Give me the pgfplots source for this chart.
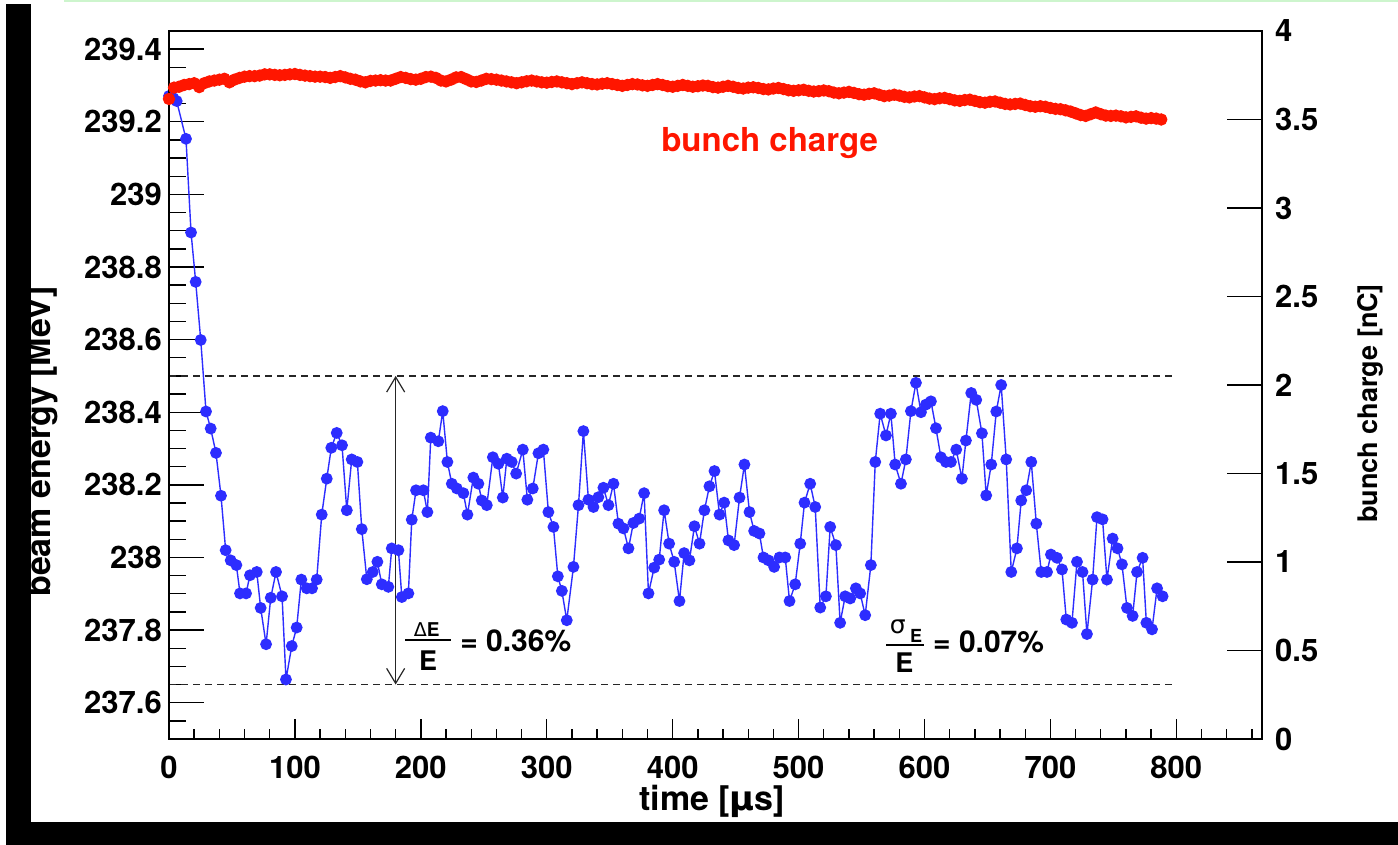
\documentclass[border=0pt]{standalone}
\usepackage{fontspec}
\setmainfont{TeX Gyre Heros}
\newfontfamily\dejavu{DejaVu Sans}
\usepackage{pgfplots}
\usepackage{pgfplotstable}
\pgfplotsset{compat=1.18}
\usetikzlibrary{arrows.meta}
\definecolor{myblue}{RGB}{45,45,255}
\definecolor{myred}{RGB}{255,22,0}
\definecolor{mygreen}{RGB}{205,245,205}
\newcommand{\fs}[1]{\fontsize{#1bp}{#1bp}\selectfont}

\pgfplotstableread{
t E
0 239.271
3.5 239.265
6.1 239.257
13.5 239.153
17.5 238.895
21.2 238.759
25.2 238.599
29.4 238.402
33.1 238.355
37.3 238.288
41.3 238.170
45.0 238.020
49.0 237.992
53.5 237.979
56.4 237.901
61.2 237.901
64.3 237.951
69.7 237.960
72.8 237.861
77.1 237.761
80.8 237.889
85.0 237.960
89.8 237.893
92.9 237.664
97.5 237.756
101.4 237.807
105.1 237.939
109.4 237.915
113.6 237.915
117.3 237.939
121.3 238.118
125.3 238.217
128.9 238.302
133.2 238.343
137.4 238.309
141.2 238.130
145.1 238.270
149.6 238.263
153.1 238.078
157.1 237.940
161.8 237.960
165.5 237.988
169.0 237.926
174.2 237.919
176.9 238.025
182.2 238.020
184.9 237.891
190.1 237.901
192.8 238.104
196.2 238.185
202.0 238.185
205.2 238.125
207.9 238.330
213.9 238.320
217.4 238.403
221.1 238.263
224.6 238.203
228.6 238.190
233.8 238.177
237.0 238.118
241.7 238.220
245.7 238.203
248.4 238.157
252.4 238.144
257.2 238.276
261.6 238.258
265.1 238.165
268.3 238.272
272.2 238.263
275.7 238.231
281.0 238.297
284.6 238.159
288.9 238.190
293.4 238.287
297.3 238.297
301.3 238.125
305.3 238.084
308.8 237.948
312.0 237.908
315.9 237.827
321.2 237.974
325.2 238.144
329.1 238.348
333.1 238.159
337.1 238.139
341.0 238.166
345.0 238.192
349.0 238.144
353.0 238.203
356.9 238.093
360.9 238.080
364.9 238.025
368.8 238.095
373.4 238.107
377.3 238.177
380.8 237.901
385.3 237.972
389.3 237.994
393.2 238.130
397.2 238.038
401.2 237.988
405.4 237.880
409.1 238.012
413.3 237.992
417.3 238.086
421.3 238.038
425.2 238.130
429.2 238.196
433.2 238.238
437.2 238.118
440.9 238.151
444.3 238.047
448.8 238.034
453.1 238.165
457.0 238.256
461.0 238.125
464.7 238.073
468.9 238.066
472.1 238.000
476.1 237.992
480.6 237.974
484.8 238.000
489.4 238.000
492.8 237.880
497.3 237.926
501.3 238.038
504.7 238.151
509.2 238.203
513.2 238.139
517.2 237.862
521.7 237.893
525.1 238.084
529.6 238.034
533.0 237.820
537.0 237.893
541.0 237.887
545.5 237.915
548.9 237.901
552.9 237.841
557.4 237.979
560.9 238.263
564.8 238.396
569.4 238.336
573.3 238.396
576.7 238.256
581.3 238.203
585.2 238.270
589.2 238.403
593.2 238.481
597.2 238.400
601.1 238.421
605.1 238.430
609.1 238.356
613.0 238.276
617.0 238.263
621.0 238.263
625.2 238.297
629.7 238.217
632.9 238.322
637.1 238.453
641.1 238.434
645.6 238.342
649.0 238.171
653.0 238.256
657.0 238.402
660.9 238.475
664.9 238.270
668.9 237.960
673.4 238.025
676.8 238.157
680.8 238.185
684.8 238.263
688.8 238.093
692.7 237.960
697.3 237.960
700.4 238.008
705.2 237.999
709.2 237.967
712.6 237.829
717.1 237.820
721.1 237.988
725.5 237.960
729.0 237.789
733.5 237.939
737.0 238.111
741.4 238.105
744.9 237.939
749.4 238.052
753.3 238.025
756.8 237.981
760.8 237.861
765.3 237.839
768.8 237.960
773.2 237.999
776.2 237.820
780.7 237.802
784.7 237.915
789.1 237.893
}\energy

\pgfplotstableread{
t Q
0 3.616
4 3.680
8 3.685
12 3.695
16 3.700
20 3.705
24 3.683
28 3.705
32 3.715
36 3.720
40 3.725
44 3.730
48 3.710
52 3.725
56 3.735
60 3.742
64 3.745
68 3.745
72 3.748
76 3.755
80 3.755
84 3.752
88 3.750
92 3.752
96 3.755
100 3.757
104 3.752
108 3.748
112 3.745
116 3.742
120 3.742
124 3.740
128 3.735
132 3.740
136 3.745
140 3.738
144 3.730
148 3.725
152 3.715
156 3.710
160 3.718
164 3.720
168 3.722
172 3.720
176 3.720
180 3.730
184 3.740
188 3.735
192 3.728
196 3.725
200 3.730
204 3.740
208 3.742
212 3.735
216 3.720
220 3.715
224 3.725
228 3.738
232 3.740
236 3.728
240 3.715
244 3.712
248 3.720
252 3.730
256 3.728
260 3.725
264 3.720
268 3.715
272 3.710
276 3.705
280 3.710
284 3.716
288 3.720
292 3.715
296 3.710
300 3.708
304 3.712
308 3.715
312 3.710
316 3.705
320 3.700
324 3.705
328 3.710
332 3.705
336 3.700
340 3.698
344 3.702
348 3.705
352 3.700
356 3.695
360 3.690
364 3.695
368 3.700
372 3.698
376 3.693
380 3.690
384 3.695
388 3.700
392 3.695
396 3.688
400 3.685
404 3.690
408 3.695
412 3.690
416 3.685
420 3.688
424 3.692
428 3.690
432 3.683
436 3.680
440 3.685
444 3.690
448 3.685
452 3.678
456 3.675
460 3.680
464 3.682
468 3.678
472 3.672
476 3.670
480 3.675
484 3.678
488 3.672
492 3.665
496 3.662
500 3.665
504 3.668
508 3.662
512 3.658
516 3.660
520 3.664
524 3.660
528 3.652
532 3.648
536 3.652
540 3.656
544 3.650
548 3.643
552 3.640
556 3.645
560 3.648
564 3.640
568 3.632
572 3.635
576 3.640
580 3.635
584 3.628
588 3.625
592 3.630
596 3.632
600 3.625
604 3.618
608 3.615
612 3.620
616 3.622
620 3.615
624 3.608
628 3.605
632 3.610
636 3.612
640 3.605
644 3.598
648 3.595
652 3.600
656 3.602
660 3.595
664 3.588
668 3.585
672 3.588
676 3.590
680 3.582
684 3.575
688 3.572
692 3.575
696 3.572
700 3.565
704 3.560
708 3.558
712 3.552
716 3.545
720 3.535
724 3.525
728 3.520
732 3.530
736 3.540
740 3.530
744 3.522
748 3.520
752 3.522
756 3.518
760 3.512
764 3.515
768 3.518
772 3.510
776 3.505
780 3.508
784 3.505
788 3.500
}\charge

\begin{document}
\begin{tikzpicture}
\path[use as bounding box] (0,0) rectangle (1398bp,845bp);
\fill[white] (0,0) rectangle (1398bp,845bp);
\fill[mygreen] (64bp,842.5bp) rectangle (1398bp,845bp);
\fill[black] (6bp,0) rectangle (31bp,841bp);
\fill[black] (6bp,0) rectangle (1398bp,23bp);
\pgfplotsset{
  common/.style={
    at={(169bp,106bp)}, anchor=south west,
    scale only axis, width=1093bp, height=708bp,
    xmin=0, xmax=868,
    axis line style={line width=1.4bp},
    every tick/.style={black, line width=1.4bp},
    tick align=inside,
    ticklabel style={font=\bfseries\fs{31}},
    /pgf/number format/assume math mode=true,
    /pgf/number format/fixed, /pgf/number format/precision=1,
    scaled ticks=false, clip=false,
  }
}
% x ticks
\begin{axis}[common, ymin=0, ymax=1, hide y axis,
  xtick={0,100,200,300,400,500,600,700,800},
  minor xtick={20,40,60,80,120,140,160,180,220,240,260,280,320,340,360,380,420,440,460,480,520,540,560,580,620,640,660,680,720,740,760,780,820,840,860},
  xtick pos=bottom,
  major tick length=20bp, minor tick length=10bp,
  xticklabel style={anchor=north, inner sep=0pt, yshift=-17bp},
  xlabel={time [{\dejavu\bfseries μ}s]},
  xlabel style={font=\bfseries\fs{34}, at={(axis description cs:0.497,-0.088)}, anchor=center},
]
\end{axis}
% left y axis with energy
\begin{axis}[common, ymin=237.5, ymax=239.45,
  xtick=\empty,
  ytick={237.6,237.8,238,238.2,238.4,238.6,238.8,239,239.2,239.4},
  minor ytick={237.55,237.65,237.7,237.75,237.85,237.9,237.95,238.05,238.1,238.15,238.25,238.3,238.35,238.45,238.5,238.55,238.65,238.7,238.75,238.85,238.9,238.95,239.05,239.1,239.15,239.25,239.3,239.35},
  ytick pos=left,
  major tick length=35bp, minor tick length=17bp,
  yticklabel style={anchor=east, inner sep=0pt, xshift=-7bp},
  ylabel={beam energy [MeV]},
  ylabel style={font=\bfseries\fs{34}, at={(axis description cs:-0.116,0.42)}, anchor=center},
]
\draw[black!85, line width=1.2bp, dash pattern=on 7bp off 5bp] (axis cs:0,238.5) -- (axis cs:800,238.5);
\draw[black!85, line width=1.2bp, dash pattern=on 7bp off 5bp] (axis cs:0,237.65) -- (axis cs:800,237.65);
\draw[black!85, line width=1.2bp, {Straight Barb[length=15bp,width=18bp]}-{Straight Barb[length=15bp,width=18bp]}] (axis cs:180,237.65) -- (axis cs:180,238.5);
\addplot[myblue, line width=1.4bp, mark=*, mark size=5.2bp, mark options={solid, fill=myblue, draw=myblue}] table[x=t, y=E] {\energy};
% Delta E / E
\node[inner sep=0pt, font=\bfseries\fs{19}] at (axis cs:204.7,237.800) {{\dejavu\mdseries Δ}E};
\draw[line width=2bp] (axis cs:187.5,237.774) -- (axis cs:224.0,237.774);
\node[inner sep=0pt, font=\bfseries\fs{27}] at (axis cs:205.8,237.717) {E};
\node[anchor=west, inner sep=0pt, font=\bfseries\fs{30}] at (axis cs:231.2,237.770) {= 0.36\%};
% sigma E / E
\node[inner sep=0pt, font=\fs{25}] at (axis cs:578.7,237.809) {\dejavu σ};
\node[inner sep=0pt, font=\bfseries\fs{18}] at (axis cs:593.4,237.783) {E};
\draw[line width=2bp] (axis cs:569.6,237.759) -- (axis cs:599.2,237.759);
\node[inner sep=0pt, font=\bfseries\fs{27}] at (axis cs:584.0,237.709) {E};
\node[anchor=west, inner sep=0pt, font=\bfseries\fs{30}] at (axis cs:606.7,237.766) {= 0.07\%};
\end{axis}
% right y axis with charge
\begin{axis}[common, ymin=0, ymax=4, hide x axis,
  ytick={0,0.5,1,1.5,2,2.5,3,3.5,4},
  ytick pos=right,
  major tick length=35bp,
  yticklabel style={anchor=west, inner sep=0pt, xshift=13bp},
  ylabel={bunch charge [nC]},
  ylabel style={font=\bfseries\fs{27}, at={(axis description cs:1.099,0.474)}, anchor=center, rotate=0},
]
\addplot[myred, line width=1.4bp, mark=*, mark size=5.5bp, mark options={solid, fill=myred, draw=myred}] table[x=t, y=Q] {\charge};
\node[text=myred, font=\bfseries\fs{33}] at (axis cs:477,3.367) {bunch charge};
\end{axis}
\end{tikzpicture}
\end{document}
